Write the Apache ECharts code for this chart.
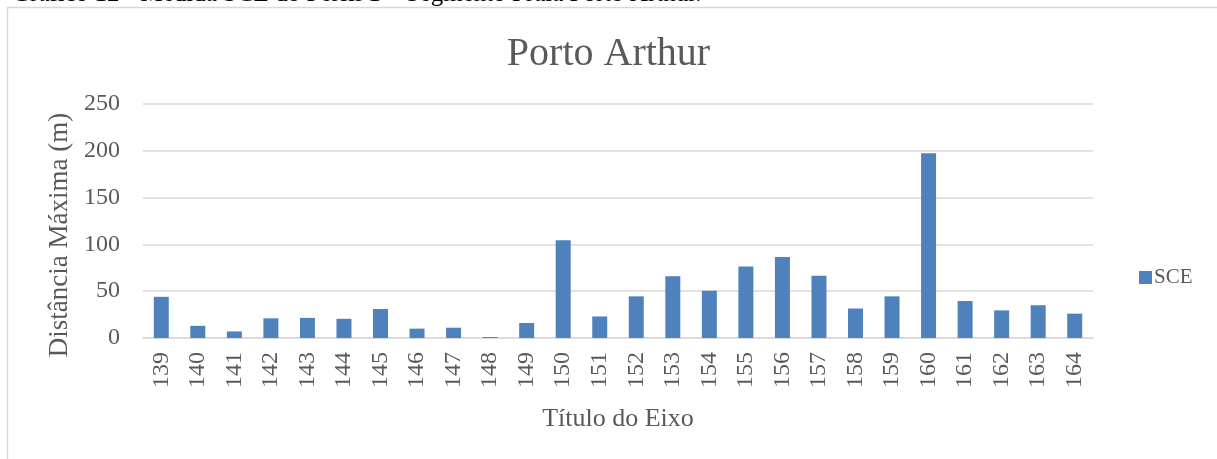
<!DOCTYPE html>
<html>
<head>
<meta charset="utf-8">
<script src="https://cdn.jsdelivr.net/npm/echarts@6/dist/echarts.min.js"></script>
<style>
  html, body { margin: 0; padding: 0; background: #fff; }
  #chart { width: 1217px; height: 459px; }
</style>
</head>
<body>
<div id="chart"></div>
<script>
// perfis (eixo x)
const perfis = ['139', '140', '141', '142', '143', '144', '145', '146', '147', '148', '149', '150', '151',
  '152', '153', '154', '155', '156', '157', '158', '159', '160', '161', '162', '163', '164'];
// distância máxima SCE (m)
const sce = [44, 13, 7, 21, 21.5, 20.5, 31, 10, 11, 1, 16, 104.5, 23,
  44.5, 66, 50.5, 76.5, 86.5, 66.5, 31.5, 44.5, 197.5, 39.5, 29.5, 35, 26];
const yTicks = [0, 50, 100, 150, 200, 250];

const serif = '"Liberation Serif", "DejaVu Serif", serif';
const cinza = '#595959';

const myChart = echarts.init(document.getElementById('chart'));

let option = {
  animation: false,
  textStyle: { fontFamily: serif },
  title: {
    text: 'Porto Arthur',
    left: 'center',
    top: 29,
    textStyle: { fontFamily: serif, fontSize: 40, fontWeight: 'normal', color: cinza }
  },
  legend: {
    data: ['SCE'],
    left: 1134,
    top: 262,
    icon: 'rect',
    itemWidth: 13,
    itemHeight: 13,
    itemGap: 6,
    textStyle: { fontFamily: serif, fontSize: 21, color: cinza, padding: [0, 0, 0, -3] }
  },
  graphic: [
    // moldura do gráfico (continua para fora da janela)
    {
      type: 'rect',
      shape: { x: 7.5, y: 7.5, width: 1400, height: 700 },
      style: { fill: 'none', stroke: '#d9d9d9', lineWidth: 1.5 },
      silent: true
    },
    // legenda da figura, cortada no topo
    {
      type: 'text',
      style: {
        x: 12,
        y: 7,
        text: 'Gráfico 12 - Medida SCE do Perfil 1 – Segmento Praia Porto Arthur.',
        font: '25px ' + serif,
        fill: '#000',
        textVerticalAlign: 'bottom'
      }
    },
    // título do eixo y
    {
      type: 'text',
      x: 60,
      y: 235,
      rotation: Math.PI / 2,
      style: {
        text: 'Distância Máxima (m)',
        font: '27px ' + serif,
        fill: cinza,
        textAlign: 'center',
        textVerticalAlign: 'middle'
      }
    }
  ],
  grid: {
    left: 143,
    right: 124,
    top: 104,
    bottom: 121
  },
  xAxis: {
    type: 'category',
    data: perfis,
    name: 'Título do Eixo',
    nameLocation: 'middle',
    nameGap: 68,
    nameTextStyle: { fontFamily: serif, fontSize: 26, color: cinza },
    axisTick: { show: false },
    axisLine: { lineStyle: { color: '#d9d9d9', width: 1.5 } },
    axisLabel: {
      rotate: 90,
      margin: 14,
      fontFamily: serif,
      fontSize: 24,
      color: cinza,
      interval: 0
    }
  },
  yAxis: {
    type: 'value',
    min: 0,
    max: 250,
    interval: 50,
    axisLine: { show: false },
    axisTick: { show: false },
    axisLabel: {
      margin: 23,
      fontFamily: serif,
      fontSize: 24,
      color: cinza,
      formatter: v => (yTicks.indexOf(v) > -1 ? String(v) : '')
    },
    splitLine: { lineStyle: { color: '#d9d9d9', width: 1.5 } }
  },
  series: [
    {
      name: 'SCE',
      type: 'bar',
      barWidth: 15,
      itemStyle: { color: '#4f81bd' },
      data: sce
    }
  ]
};

option && myChart.setOption(option);
</script>
</body>
</html>
